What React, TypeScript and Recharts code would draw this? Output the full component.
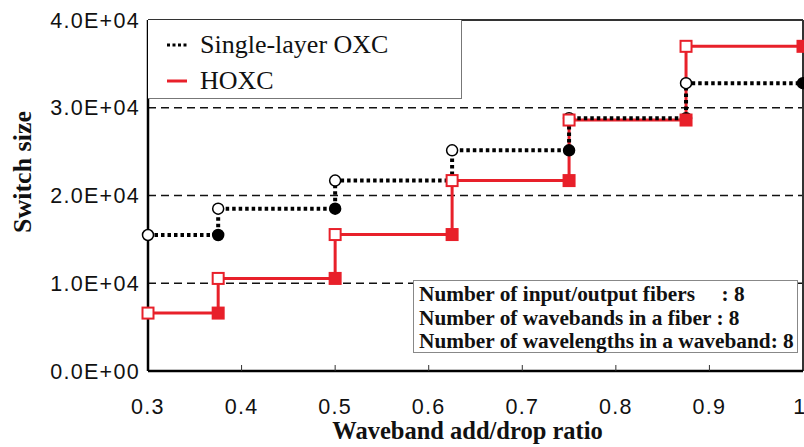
import { LineChart, Line, XAxis, YAxis, ReferenceLine, Label } from 'recharts'

// step breakpoints along the x axis (waveband add/drop ratio)
const breakpoints = [0.3, 0.375, 0.5, 0.625, 0.75, 0.875, 1]
// switch size on each step
const singleLayerSizes = [15500, 18500, 21700, 25150, 28800, 32800]
const hoxcSizes = [6600, 10550, 15550, 21700, 28600, 37000]

const xTicks = [0.3, 0.4, 0.5, 0.6, 0.7, 0.8, 0.9, 1]
const yTicks = [0, 10000, 20000, 30000, 40000]
const gridValues = [10000, 20000, 30000]

const SERIES = [
  { name: 'Single-layer OXC', color: '#000000', dashed: true },
  { name: 'HOXC', color: '#e8202a', dashed: false },
]

const infoLines = [
  'Number of input/output fibers     : 8',
  'Number of wavebands in a fiber : 8',
  'Number of wavelengths in a waveband: 8',
]

type StepPoint = { x: number; y: number; kind: 'open' | 'filled' }

// each step starts with an open marker and ends with a filled one
function toSteps(values: number[]): StepPoint[] {
  const out: StepPoint[] = []
  values.forEach((v, i) => {
    out.push({ x: breakpoints[i], y: v, kind: 'open' })
    out.push({ x: breakpoints[i + 1], y: v, kind: 'filled' })
  })
  return out
}

const singleData = toSteps(singleLayerSizes)
const hoxcData = toSteps(hoxcSizes)

function sci(v: number): string {
  if (v === 0) return '0.0E+00'
  const e = Math.floor(Math.log10(v))
  const m = (v / Math.pow(10, e)).toFixed(1)
  return `${m}E+${String(e).padStart(2, '0')}`
}

const tickFont = {
  fontFamily: '"Liberation Sans", Arial, sans-serif',
  fontSize: 21.5,
  letterSpacing: 1.3,
  fill: '#111',
}

const serif = '"Liberation Serif", "Times New Roman", serif'

function CircleDot(props: any) {
  const { cx, cy, payload, index } = props
  const filled = payload.kind === 'filled'
  return (
    <circle
      key={`c-${index}`}
      cx={cx}
      cy={cy}
      r={5.5}
      fill={filled ? '#000' : '#fff'}
      stroke="#000"
      strokeWidth={1.5}
    />
  )
}

function SquareDot(props: any) {
  const { cx, cy, payload, index } = props
  const filled = payload.kind === 'filled'
  const s = 11
  return (
    <rect
      key={`s-${index}`}
      x={cx - s / 2}
      y={cy - s / 2}
      width={s}
      height={s}
      fill={filled ? SERIES[1].color : '#fff'}
      stroke={SERIES[1].color}
      strokeWidth={2}
    />
  )
}

function XTick(props: any) {
  const { x, y, payload } = props
  const v = payload.value as number
  const inner = v > 0.3 && v < 1
  return (
    <g>
      {inner && <line x1={x} x2={x} y1={y} y2={y - 6} stroke="#333" strokeWidth={1} />}
      <text x={x} y={y + 36} textAnchor="middle" dominantBaseline="central" {...tickFont}>
        {v === 1 ? '1' : v.toFixed(1)}
      </text>
    </g>
  )
}

export default function App() {
  return (
    <div style={{ position: 'absolute', left: 0, top: 0, width: 804, height: 447, background: '#fff' }}>
      <LineChart width={804} height={447} margin={{ top: 20, right: 1, bottom: 0, left: 0 }}>
        <XAxis
          type="number"
          dataKey="x"
          domain={[0.3, 1]}
          ticks={xTicks}
          allowDuplicatedCategory={false}
          height={76}
          tickSize={0}
          tickMargin={0}
          tick={<XTick />}
          axisLine={{ stroke: '#000', strokeWidth: 2.5 }}
        >
          <Label
            value="Waveband add/drop ratio"
            position="insideBottom"
            offset={8}
            dx={-8}
            style={{ fontFamily: serif, fontWeight: 'bold', fontSize: 24.5, fill: '#111' }}
          />
        </XAxis>
        <YAxis
          type="number"
          domain={[0, 40000]}
          ticks={yTicks}
          width={148}
          tickSize={0}
          tickMargin={8}
          tickLine={false}
          tickFormatter={sci}
          tick={tickFont}
          axisLine={{ stroke: '#000', strokeWidth: 2.5 }}
        >
          <Label
            content={() => (
              <text
                x={22}
                y={172}
                transform="rotate(-90 22 172)"
                textAnchor="middle"
                dominantBaseline="central"
                fontFamily={serif}
                fontWeight="bold"
                fontSize={26}
                fill="#111"
              >
                Switch size
              </text>
            )}
          />
        </YAxis>
        {gridValues.map((g) => (
          <ReferenceLine key={g} y={g} stroke="#111" strokeWidth={1.4} strokeDasharray="8 5" />
        ))}
        <ReferenceLine y={40000} stroke="#333" strokeWidth={2} />
        <ReferenceLine x={1} stroke="#333" strokeWidth={2} />

        <Line
          data={hoxcData}
          dataKey="y"
          type="linear"
          stroke={SERIES[1].color}
          strokeWidth={3}
          dot={false}
          activeDot={false}
          isAnimationActive={false}
        />
        <Line
          data={singleData}
          dataKey="y"
          type="linear"
          stroke="#000"
          strokeWidth={4}
          strokeDasharray="3.5 3"
          dot={false}
          activeDot={false}
          isAnimationActive={false}
        />
        <Line
          data={singleData}
          dataKey="y"
          type="linear"
          stroke="none"
          dot={CircleDot}
          activeDot={false}
          isAnimationActive={false}
        />
        <Line
          data={hoxcData}
          dataKey="y"
          type="linear"
          stroke="none"
          dot={SquareDot}
          activeDot={false}
          isAnimationActive={false}
        />
      </LineChart>

      {/* legend box */}
      <div
        style={{
          position: 'absolute',
          left: 148,
          top: 20,
          width: 313,
          height: 78,
          border: '1px solid #777',
          borderTop: 'none',
          borderLeft: 'none',
          background: '#fff',
          fontFamily: serif,
          fontSize: 26,
          color: '#111',
        }}
      >
        {SERIES.map((s, i) => (
          <div
            key={s.name}
            style={{ position: 'absolute', left: 18, top: 10 + i * 36, height: 30, display: 'flex', alignItems: 'center' }}
          >
            <svg width={22} height={10} style={{ marginRight: 12 }}>
              <line
                x1={1}
                x2={21}
                y1={5}
                y2={5}
                stroke={s.color}
                strokeWidth={3}
                strokeDasharray={s.dashed ? '3 2.5' : undefined}
              />
            </svg>
            <span>{s.name}</span>
          </div>
        ))}
      </div>

      {/* parameter box */}
      <div
        style={{
          position: 'absolute',
          left: 413,
          top: 280,
          width: 385,
          height: 73,
          border: '1px solid #888',
          background: '#fff',
          fontFamily: serif,
          fontWeight: 'bold',
          fontSize: 21.3,
          lineHeight: '23.5px',
          color: '#111',
          padding: '2px 0 0 5px',
          boxSizing: 'border-box',
          whiteSpace: 'pre',
        }}
      >
        {infoLines.map((t) => (
          <div key={t}>{t}</div>
        ))}
      </div>
    </div>
  )
}
